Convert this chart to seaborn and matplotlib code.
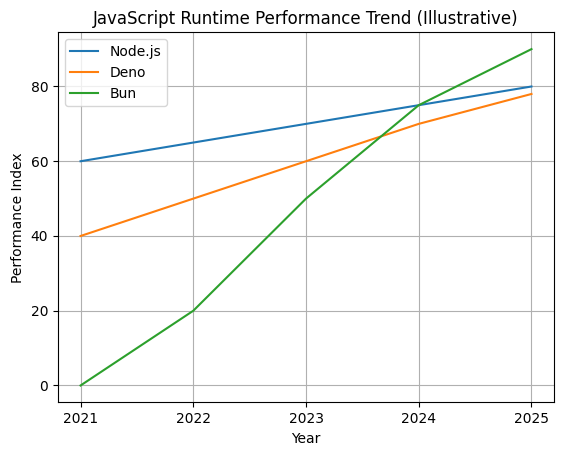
import pandas as pd
import matplotlib.pyplot as plt
import seaborn as sns

years = [2021, 2022, 2023, 2024, 2025]
node = [60, 65, 70, 75, 80]
deno = [40, 50, 60, 70, 78]
bun = [0, 20, 50, 75, 90]

df = pd.DataFrame({'Year': years * 3,
                   'Performance': node + deno + bun,
                   'Runtime': ['Node.js'] * 5 + ['Deno'] * 5 + ['Bun'] * 5})

fig, ax = plt.subplots(figsize=(5.62, 4.55), dpi=100)
fig.subplots_adjust(left=0.1032, right=0.9858, top=0.929, bottom=0.1158)
sns.lineplot(data=df, x='Year', y='Performance', hue='Runtime',
             palette=['#1f77b4', '#ff7f0e', '#2ca02c'], ax=ax)
ax.set_title('JavaScript Runtime Performance Trend (Illustrative)')
ax.set_xlabel('Year')
ax.set_ylabel('Performance Index')
ax.set_xticks(years)
ax.legend(loc='upper left')
ax.grid(True)
plt.savefig('out.png')
